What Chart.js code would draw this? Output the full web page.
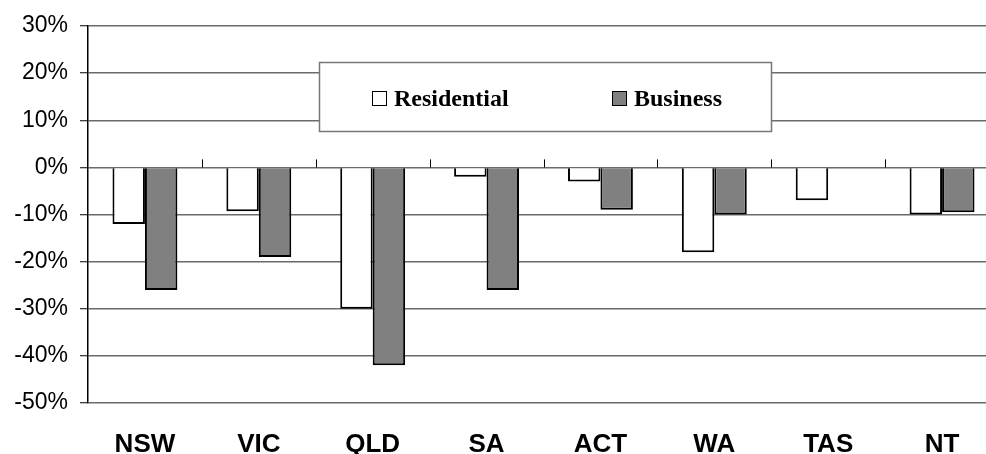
<!DOCTYPE html>
<html>
<head>
<meta charset="utf-8">
<script src="https://cdn.jsdelivr.net/npm/chart.js@4/dist/chart.umd.min.js"></script>
<style>
  html, body { margin: 0; padding: 0; background: #fff; overflow: hidden; }
  #wrap { position: absolute; left: 0; top: 0; width: 1000px; height: 454px; }
</style>
</head>
<body>
<div id="wrap"><canvas id="c"></canvas></div>
<script>
// Change by state, per cent
const states = ['NSW', 'VIC', 'QLD', 'SA', 'ACT', 'WA', 'TAS', 'NT'];
const residential = [-12, -9.3, -30, -2, -3, -18, -7, -10];
const business = [-26, -19, -42, -26, -9, -10, null, -9.5];
const seriesNames = ['Residential', 'Business'];
const yMin = -50, yMax = 30, yStep = 10;

// Small upward tick marks on the zero line, between categories
const zeroTicks = {
  id: 'zeroTicks',
  afterDatasetsDraw(chart) {
    const x = chart.scales.x, y = chart.scales.y, ctx = chart.ctx;
    const y0 = y.getPixelForValue(0);
    ctx.save();
    ctx.strokeStyle = '#000';
    ctx.lineWidth = 1;
    for (let i = 1; i < states.length; i++) {
      const bx = Math.round((x.getPixelForValue(i - 1) + x.getPixelForValue(i)) / 2) + 0.5;
      ctx.beginPath();
      ctx.moveTo(bx, y0);
      ctx.lineTo(bx, y0 - 8);
      ctx.stroke();
    }
    ctx.restore();
  }
};

// Boxed legend sitting over the upper part of the plot
const boxLegend = {
  id: 'boxLegend',
  afterDraw(chart) {
    const ctx = chart.ctx;
    const box = { x: 319.5, y: 62.5, w: 452, h: 69 };
    ctx.save();
    ctx.fillStyle = '#fff';
    ctx.strokeStyle = '#777';
    ctx.lineWidth = 1.5;
    ctx.fillRect(box.x, box.y, box.w, box.h);
    ctx.strokeRect(box.x, box.y, box.w, box.h);
    const itemX = [372, 612];
    ctx.font = 'bold 24px "Liberation Serif", "Times New Roman", serif';
    ctx.textBaseline = 'alphabetic';
    chart.data.datasets.forEach((ds, i) => {
      ctx.fillStyle = ds.backgroundColor;
      ctx.fillRect(itemX[i] + 0.5, 91.5, 14, 14);
      ctx.strokeStyle = '#000';
      ctx.lineWidth = 1;
      ctx.strokeRect(itemX[i] + 0.5, 91.5, 14, 14);
      ctx.fillStyle = '#000';
      ctx.fillText(ds.label, itemX[i] + 22, 106);
    });
    ctx.restore();
  }
};

new Chart(document.getElementById('c'), {
  type: 'bar',
  data: {
    labels: states,
    datasets: [
      { label: seriesNames[0], data: residential, backgroundColor: '#ffffff', borderColor: '#000', borderWidth: 2 },
      { label: seriesNames[1], data: business, backgroundColor: '#808080', borderColor: '#000', borderWidth: 2 }
    ]
  },
  options: {
    responsive: true,
    maintainAspectRatio: false,
    animation: false,
    events: [],
    layout: { padding: { top: 26, right: 1, bottom: 0, left: 0 } },
    datasets: { bar: { barPercentage: 1, categoryPercentage: 0.57 } },
    plugins: { legend: { display: false }, tooltip: { enabled: false } },
    scales: {
      x: {
        grid: { display: false, drawTicks: false },
        border: { display: false },
        ticks: {
          padding: 26,
          color: '#000',
          font: { family: '"Liberation Sans", Arial, sans-serif', size: 26, weight: 'bold' }
        },
        afterFit(scale) { scale.height = 51; }
      },
      y: {
        min: yMin,
        max: yMax,
        ticks: {
          stepSize: yStep,
          padding: 12,
          color: '#000',
          font: { family: '"Liberation Sans", Arial, sans-serif', size: 23 },
          callback: v => v + '%'
        },
        grid: { color: '#6a6a6a', lineWidth: 1.5, tickLength: 8, tickColor: '#000', tickWidth: 1 },
        border: { display: true, color: '#000', width: 1.5 },
        afterFit(scale) { scale.width = 88; }
      }
    }
  },
  plugins: [zeroTicks, boxLegend]
});
</script>
</body>
</html>
